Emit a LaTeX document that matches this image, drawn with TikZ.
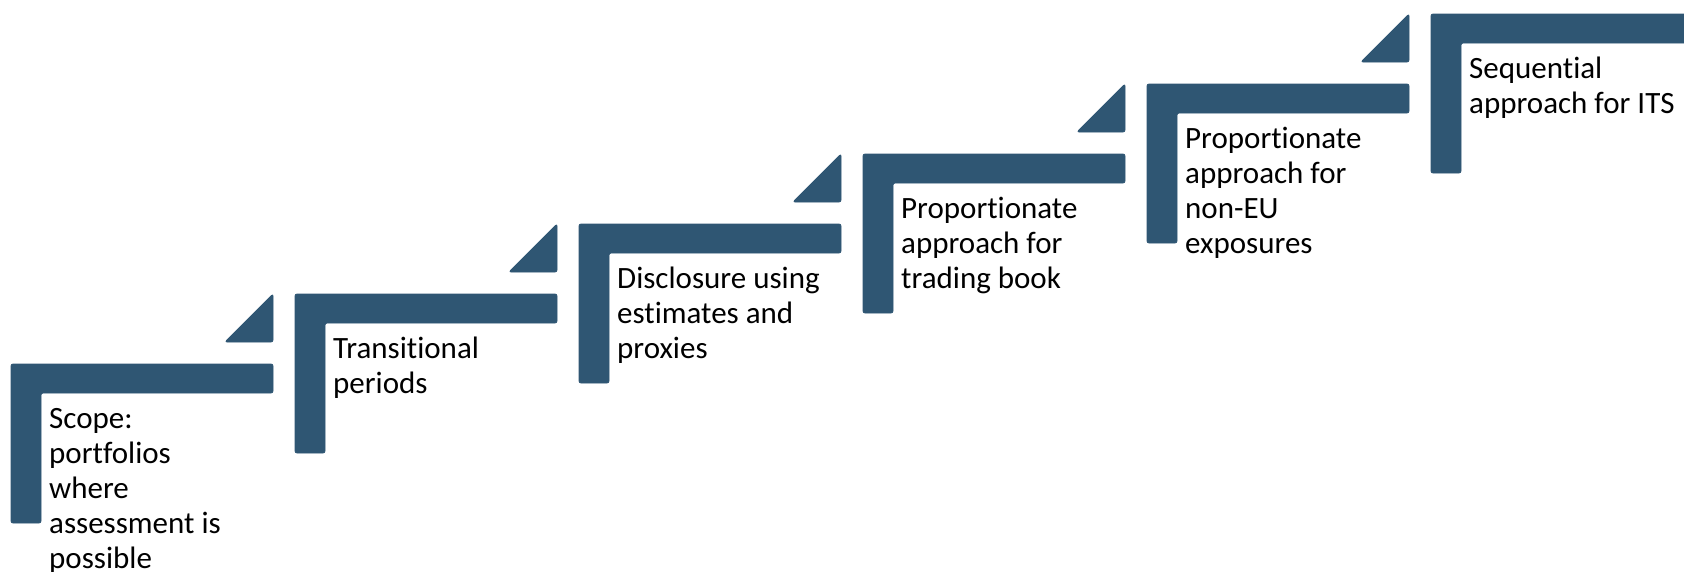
\documentclass[tikz,border=0pt]{standalone}
\usepackage{fontspec}
\setmainfont{Carlito}[Ligatures=NoCommon]
\definecolor{stepblue}{HTML}{2F5673}
\newcommand{\steplines}[1]{\begin{tabular}[t]{@{}l@{}}#1\end{tabular}}
\begin{document}
\begin{tikzpicture}[x=1pt, y=-1pt, line join=round,
	stepshape/.style={fill=stepblue, draw=stepblue, line width=0.8pt, rounded corners=2pt},
	steptext/.style={anchor=base west, inner sep=0pt, font=\fontsize{31}{35}\selectfont}]
	\useasboundingbox (0,0) rectangle (1684,571);
	\foreach \i/\txt in {0/{Scope:\\portfolios\\where\\assessment is\\possible},
		1/{Transitional\\periods},
		2/{Disclosure using\\estimates and\\proxies},
		3/{Proportionate\\approach for\\trading book},
		4/{Proportionate\\approach for\\non-EU\\exposures},
		5/{Sequential\\approach for ITS}}
	{
		\path (11+284*\i, 364-70*\i) coordinate (S\i);
		% the L of each step
		\draw[stepshape] (S\i)++(0,159) -- (S\i) -- ++(262,0) -- ++(0,29) -- ++(-232,0) -- ++(0,130) -- cycle;
		\node[steptext] (t\i) at ([shift={(38,64)}]S\i) {\steplines{\txt}};
	}
	% small wedges above the steps
	\foreach \i in {0,...,4}
	\draw[stepshape] ([shift={(262,-70)}]S\i) -- ++(0,48) -- ++(-48,0) -- cycle;
\end{tikzpicture}
\end{document}
